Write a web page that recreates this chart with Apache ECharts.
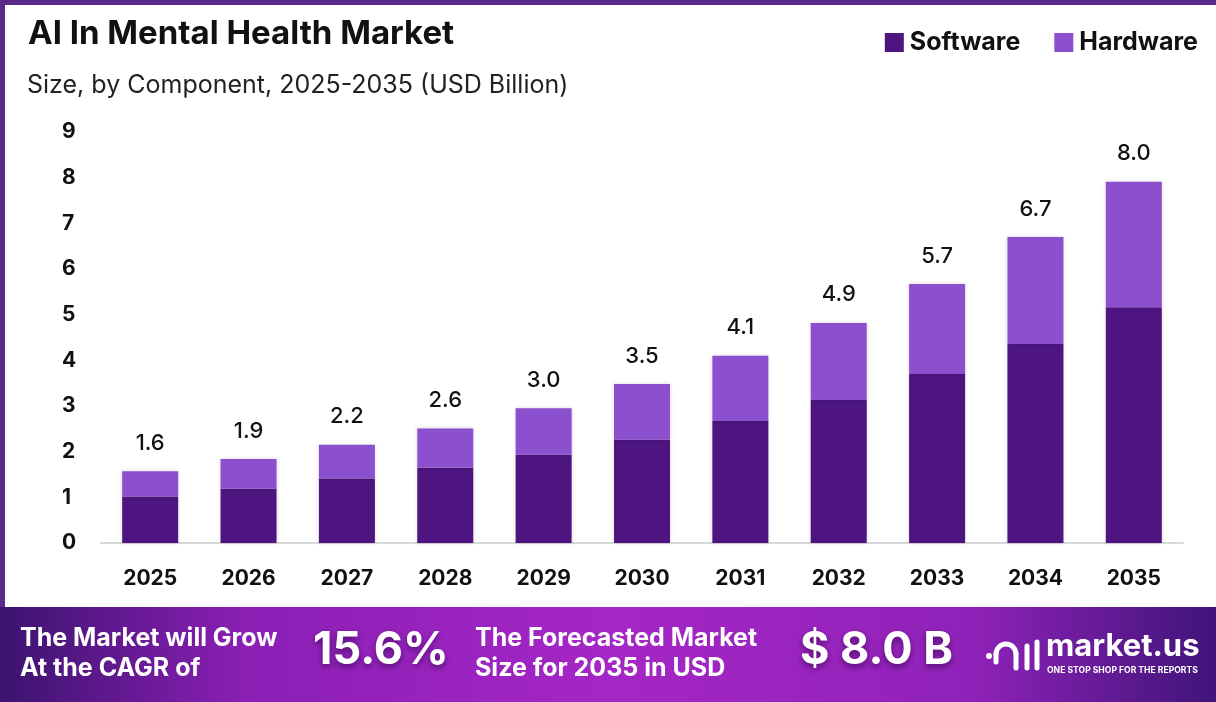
<!DOCTYPE html>
<html>
<head>
<meta charset="utf-8">
<script src="https://cdn.jsdelivr.net/npm/echarts@6/dist/echarts.min.js"></script>
<style>
  html, body { margin: 0; padding: 0; background: #fff; }
  #chart { width: 1216px; height: 702px; }
</style>
</head>
<body>
<div id="chart"></div>
<script>
const years = ["2025", "2026", "2027", "2028", "2029", "2030", "2031", "2032", "2033", "2034", "2035"];
const software = [1.02, 1.19, 1.41, 1.65, 1.93, 2.26, 2.67, 3.13, 3.70, 4.36, 5.16];
const hardware = [0.55, 0.65, 0.74, 0.86, 1.02, 1.22, 1.43, 1.69, 1.97, 2.34, 2.75];
const totals = ["1.6", "1.9", "2.2", "2.6", "3.0", "3.5", "4.1", "4.9", "5.7", "6.7", "8.0"];
const yTicks = [0, 1, 2, 3, 4, 5, 6, 7, 8, 9];

const font = "Inter, 'Open Sans', sans-serif";
const dark = "#4e1580";
const light = "#8c4fce";

const chart = echarts.init(document.getElementById("chart"), null, { renderer: "canvas" });

const option = {
  backgroundColor: "#fff",
  animation: false,
  textStyle: { fontFamily: font },
  title: [
    {
      text: "AI In Mental Health Market",
      left: 23, top: 13,
      textStyle: { fontSize: 33, fontWeight: "bold", color: "#111", fontFamily: font }
    },
    {
      text: "Size, by Component, 2025-2035 (USD Billion)",
      left: 22, top: 68,
      textStyle: { fontSize: 25, fontWeight: "normal", color: "#222", fontFamily: font }
    }
  ],
  legend: {
    right: 13, top: 25,
    itemWidth: 19, itemHeight: 19, itemGap: 34,
    icon: "rect",
    textStyle: { fontSize: 25, fontWeight: "bold", color: "#111", fontFamily: font, padding: [0, 0, 0, 1] },
    data: ["Software", "Hardware"]
  },
  grid: { left: 101, right: 33, top: 132, bottom: 159 },
  xAxis: {
    type: "category",
    data: years,
    axisLine: { lineStyle: { color: "#d8d8d8", width: 2 } },
    axisTick: { show: false },
    axisLabel: { fontSize: 21, fontWeight: "bold", color: "#111", margin: 25, fontFamily: font }
  },
  yAxis: {
    type: "value",
    min: yTicks[0], max: yTicks[yTicks.length - 1], interval: 1,
    splitLine: { show: false },
    axisLine: { show: false },
    axisTick: { show: false },
    axisLabel: { fontSize: 21, fontWeight: "bold", color: "#111", margin: 39, align: "left", fontFamily: font }
  },
  series: [
    {
      name: "Software",
      type: "bar",
      stack: "total",
      barWidth: 56,
      data: software,
      itemStyle: { color: dark, shadowColor: "rgba(0,0,0,0.15)", shadowBlur: 4 }
    },
    {
      name: "Hardware",
      type: "bar",
      stack: "total",
      barWidth: 56,
      data: hardware,
      itemStyle: { color: light, shadowColor: "rgba(0,0,0,0.15)", shadowBlur: 4 },
      label: {
        show: true,
        position: "top",
        distance: 17,
        fontSize: 22,
        fontWeight: 500,
        color: "#111",
        fontFamily: font,
        formatter: (p) => totals[p.dataIndex]
      }
    }
  ],
  graphic: [
    // outer frame
    {
      type: "rect", left: 0, top: 0, z: 100, silent: true,
      shape: { width: 1216, height: 702 },
      style: { fill: "none", stroke: "#5a2a8a", lineWidth: 5 }
    },
    // bottom banner
    {
      type: "rect", left: 0, top: 607, z: 101,
      shape: { width: 1216, height: 95 },
      style: {
        fill: new echarts.graphic.LinearGradient(0, 0, 1, 0, [
          { offset: 0, color: "#3c136f" },
          { offset: 0.2, color: "#8a1fb4" },
          { offset: 0.5, color: "#a526c6" },
          { offset: 0.8, color: "#8f22b8" },
          { offset: 1, color: "#40147a" }
        ])
      }
    },
    {
      type: "text", left: 20, top: 623, z: 102,
      style: { text: "The Market will Grow\nAt the CAGR of", fill: "#fff", font: "bold 25px " + font, lineHeight: 30 }
    },
    {
      type: "text", left: 313, top: 628, z: 102,
      style: { text: "15.6%", fill: "#fff", font: "bold 45px " + font, textShadowColor: "rgba(40,0,60,0.6)", textShadowBlur: 6, textShadowOffsetY: 3 }
    },
    {
      type: "text", left: 475, top: 623, z: 102,
      style: { text: "The Forecasted Market\nSize for 2035 in USD", fill: "#fff", font: "bold 25px " + font, lineHeight: 30 }
    },
    {
      type: "text", left: 800, top: 628, z: 102,
      style: { text: "$ 8.0 B", fill: "#fff", font: "bold 45px " + font, textShadowColor: "rgba(40,0,60,0.6)", textShadowBlur: 6, textShadowOffsetY: 3 }
    },
    // logo icon (simplified)
    {
      type: "circle", z: 102,
      shape: { cx: 989, cy: 656, r: 3 },
      style: { fill: "#fff" }
    },
    {
      type: "arc", z: 102,
      shape: { cx: 1006, cy: 654, r: 10, startAngle: Math.PI, endAngle: 0 },
      style: { stroke: "#fff", lineWidth: 5, fill: "none", lineCap: "round" }
    },
    {
      type: "line", z: 102,
      shape: { x1: 996, y1: 654, x2: 996, y2: 662 },
      style: { stroke: "#fff", lineWidth: 5, lineCap: "round" }
    },
    {
      type: "line", z: 102,
      shape: { x1: 1016, y1: 654, x2: 1016, y2: 668 },
      style: { stroke: "#fff", lineWidth: 5, lineCap: "round" }
    },
    {
      type: "line", z: 102,
      shape: { x1: 1027, y1: 646, x2: 1027, y2: 668 },
      style: { stroke: "#fff", lineWidth: 5, lineCap: "round" }
    },
    {
      type: "line", z: 102,
      shape: { x1: 1037, y1: 642, x2: 1037, y2: 668 },
      style: { stroke: "#fff", lineWidth: 5, lineCap: "round" }
    },
    {
      type: "text", left: 1046, top: 631, z: 102,
      style: { text: "market.us", fill: "#fff", font: "bold 31px " + font }
    },
    {
      type: "text", left: 1047, top: 666, z: 102,
      style: { text: "ONE STOP SHOP FOR THE REPORTS", fill: "#fff", font: "bold 8.6px " + font }
    }
  ]
};

chart.setOption(option);
</script>
</body>
</html>
